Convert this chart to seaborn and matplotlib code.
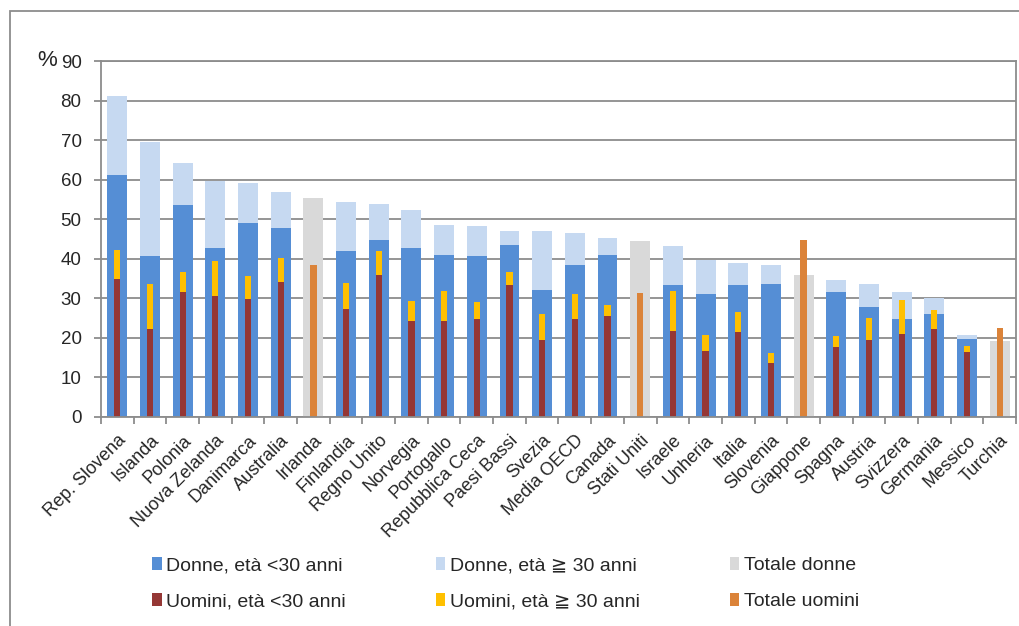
import numpy as np
import pandas as pd
import matplotlib
matplotlib.use("Agg")
import matplotlib.pyplot as plt
from matplotlib.patches import Patch, Rectangle
import seaborn as sns

countries = ["Rep. Slovena", "Islanda", "Polonia", "Nuova Zelanda", "Danimarca",
             "Australia", "Irlanda", "Finlandia", "Regno Unito", "Norvegia",
             "Portogallo", "Repubblica Ceca", "Paesi Bassi", "Svezia", "Media OECD",
             "Canada", "Stati Uniti", "Israele", "Unheria", "Italia", "Slovenia",
             "Giappone", "Spagna", "Austria", "Svizzera", "Germania", "Messico",
             "Turchia"]

nan = np.nan
# Stacked segments (percent)
donne_lt30 = [61.1, 40.6, 53.6, 42.8, 49.0, 47.7, nan, 41.8, 44.6, 42.7,
              40.9, 40.6, 43.4, 32.1, 38.4, 40.9, nan, 33.4, 31.0, 33.4, 33.6,
              nan, 31.5, 27.8, 24.8, 26.0, 19.6, nan]
donne_ge30 = [20.0, 28.8, 10.6, 16.9, 10.2, 9.2, nan, 12.5, 9.1, 9.7,
              7.6, 7.6, 3.5, 14.8, 8.1, 4.4, nan, 9.9, 8.7, 5.5, 4.8,
              nan, 3.1, 5.8, 6.7, 4.1, 1.1, nan]
totale_donne = [nan, nan, nan, nan, nan, nan, 55.3, nan, nan, nan,
                nan, nan, nan, nan, nan, nan, 44.4, nan, nan, nan, nan,
                35.8, nan, nan, nan, nan, nan, 19.1]
uomini_lt30 = [34.9, 22.1, 31.6, 30.5, 29.8, 34.2, nan, 27.3, 35.8, 24.3,
               24.2, 24.8, 33.3, 19.3, 24.7, 25.6, nan, 21.8, 16.6, 21.4, 13.7,
               nan, 17.7, 19.3, 20.8, 22.2, 16.4, nan]
uomini_ge30 = [7.4, 11.5, 4.9, 8.8, 5.8, 6.0, nan, 6.6, 6.2, 5.1,
               7.5, 4.3, 3.4, 6.6, 6.3, 2.6, nan, 9.9, 4.1, 5.1, 2.4,
               nan, 2.8, 5.6, 8.8, 4.8, 1.6, nan]
totale_uomini = [nan, nan, nan, nan, nan, nan, 38.4, nan, nan, nan,
                 nan, nan, nan, nan, nan, nan, 31.3, nan, nan, nan, nan,
                 44.7, nan, nan, nan, nan, nan, 22.4]

labels = ["Donne, età <30 anni", "Donne, età \u2267 30 anni", "Totale donne",
          "Uomini, età <30 anni", "Uomini, età \u2267 30 anni", "Totale uomini"]
colors = ["#558ED5", "#C6D9F1", "#D9D9D9", "#953735", "#FFC000", "#DB8339"]

df = pd.DataFrame({
    "paese": countries,
    "d_lt30": donne_lt30,
    "d_top": np.array(donne_lt30) + np.array(donne_ge30),
    "d_tot": totale_donne,
    "u_lt30": uomini_lt30,
    "u_top": np.array(uomini_lt30) + np.array(uomini_ge30),
    "u_tot": totale_uomini,
})

sns.set_style("white")
plt.rcParams["font.family"] = ["Liberation Sans", "DejaVu Sans"]

fig = plt.figure(figsize=(10.19, 6.26), dpi=100)
ax = fig.add_axes([101 / 1019, 1 - 416.7 / 626, (1016 - 101) / 1019, (416.7 - 61) / 626])

grid_c = "#8C8C8C"
ax.set_ylim(0, 90)
ax.set_yticks(range(0, 91, 10))
ax.yaxis.grid(True, color=grid_c, linewidth=1.3)
ax.set_axisbelow(True)

wide, narrow = 0.61, 0.19
layers = [("d_top", colors[1], wide), ("d_lt30", colors[0], wide), ("d_tot", colors[2], wide),
          ("u_top", colors[4], narrow), ("u_lt30", colors[3], narrow), ("u_tot", colors[5], narrow)]
for col, c, w in layers:
    sns.barplot(data=df, x="paese", y=col, order=countries, color=c, width=w,
                saturation=1, ax=ax, linewidth=0, errorbar=None)

ax.set_xlim(-0.5, len(countries) - 0.5)
ax.set_xlabel("")
ax.set_ylabel("")
ax.set_xticks(range(len(countries)))
ax.set_xticklabels(countries, rotation=45, ha="right", rotation_mode="anchor", fontsize=13)
ax.set_xticks(np.arange(-0.5, len(countries), 1), minor=True)
ax.tick_params(axis="x", which="major", length=0, pad=11)
ax.tick_params(axis="x", which="minor", length=5, width=1.3, color=grid_c, direction="out")
ax.tick_params(axis="y", length=5, width=1.3, color=grid_c, direction="out", labelsize=13.5, pad=9)
ax.xaxis.set_ticks_position("bottom")
ax.yaxis.set_ticks_position("left")
for s in ax.spines.values():
    s.set_visible(True)
    s.set_color(grid_c)
    s.set_linewidth(1.3)

fig.text(37 / 1019, 1 - 60 / 626, "%", fontsize=16, ha="left", va="center")

handles = [Patch(facecolor=c, edgecolor="none") for c in colors]
order = [0, 3, 1, 4, 2, 5]
fig.legend([handles[i] for i in order], [labels[i] for i in order], ncol=3,
           loc="upper left", bbox_to_anchor=(144 / 1019, 1 - 549 / 626),
           frameon=False, fontsize=14, handlelength=0.5, handleheight=0.7,
           handletextpad=0.25, columnspacing=4.6, labelspacing=0.95, borderaxespad=0)

fig.add_artist(Rectangle((10 / 1019, -0.2), 1.5, 1.2 - 11 / 626, transform=fig.transFigure,
                         fill=False, edgecolor="#8C8C8C", linewidth=1.3))

fig.savefig("out.png", dpi=100)
